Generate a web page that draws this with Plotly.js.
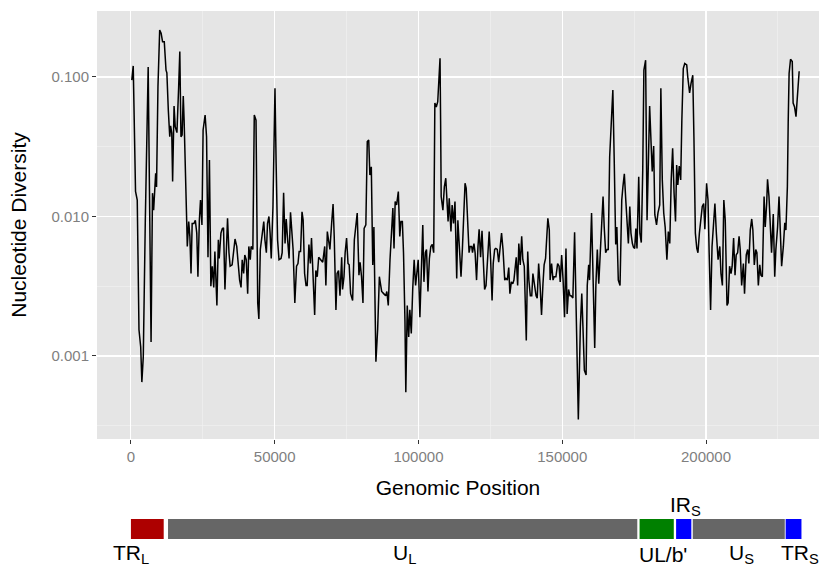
<!DOCTYPE html>
<html>
<head>
<meta charset="utf-8">
<script src="https://cdn.plot.ly/plotly-3.0.1.min.js"></script>
<style>html,body{margin:0;padding:0;background:#fff;}#chart{width:820px;height:569px;}</style>
</head>
<body>
<div id="chart"></div>
<script>
// Genomic position (bp) of each sliding window
const positions = [
300,800,1600,2200,2800,3400,3800,4300,5000,5500,6000,7000,7500,7900,8600,8900,9400,10000,10500,11000,
11600,12200,12500,13000,13500,13800,14200,14500,15000,15400,16000,16600,17000,17400,17800,18200,18500,19400,19600,20100,
20500,20900,21300,21900,22400,22900,23300,23800,24200,24700,25100,25800,26300,26800,27300,27800,28300,28800,29200,29900,
30400,30700,31300,31800,32200,32700,33100,33600,34100,34500,35200,35700,36200,36800,37300,37800,38300,38700,39200,39600,
40100,40600,41000,41500,41800,42400,42900,43500,44100,44500,45000,45500,46200,46600,47100,47500,48000,48400,48800,49400,
50100,50500,51000,51500,52200,52600,53100,53600,54000,54500,55000,55500,56000,56400,57000,57600,58100,58500,59000,59500,
59900,60400,60900,61300,61900,62400,62800,63400,63900,64300,64800,65300,66000,66700,67400,67800,68300,68800,69200,69800,
70300,70700,71300,71700,72200,72700,73300,73600,74100,74500,75000,75500,75900,76400,77100,77700,78300,78700,79300,79700,
80200,80700,81100,81700,82200,82700,83100,83600,84100,84500,85200,85800,86400,87200,87900,88600,89000,89500,90100,90700,
91100,91500,91900,92400,93000,93500,93900,94400,94800,95300,95600,96100,96600,97000,97500,98000,98500,99000,99500,99900,
100500,101100,101500,101900,102400,102800,103300,103800,104300,104800,105300,105700,106200,106700,107000,107500,107700,107900,108500,109000,
109500,109800,110300,110700,111300,111700,112200,112700,113300,113700,114200,114800,115300,115800,116200,116600,117100,117600,118000,118500,
118800,119300,119700,120200,120700,121100,121600,122100,122500,123000,123500,124100,124600,125100,125600,126000,126500,126900,127400,127900,
128300,128900,129400,130000,130400,130900,131400,131800,132300,132800,133200,133700,134000,134500,134900,135400,135900,136300,136800,137500,
138000,138400,138900,139400,139800,140300,140900,141300,141800,142300,142800,143300,143700,144200,144700,145000,145500,145800,146300,146800,
147200,147800,148400,148900,149300,149800,150300,150800,151300,151700,152200,152700,153100,153700,154300,154900,155200,155600,156300,156800,
157200,157700,158300,158700,159200,159500,160200,160700,161300,161700,162200,162700,163200,163700,164200,164600,165100,165600,166000,166500,
166900,167600,168100,168600,169000,169500,170100,170700,171100,171600,172100,172500,173000,173500,173900,174400,174800,175200,175600,176000,
176600,177000,177500,178000,178400,179000,179500,179900,180400,180900,181300,181800,182200,182800,183300,183900,184300,184800,185300,185800,
186400,186900,187400,187900,188400,188900,189400,189800,190200,190700,191200,191600,192100,192600,193300,193700,194300,194800,195400,195800,
196300,196800,197200,197700,198100,198700,199200,199600,200200,200700,201100,201600,202100,202500,203100,203600,204200,204800,205200,205700,
206200,206700,207300,207700,208200,208700,209100,209600,210100,210500,211000,211500,211900,212400,213000,213400,214000,214500,214900,215400,
215900,216300,216800,217300,217700,218200,218700,219100,219600,220200,220600,221100,221400,221900,222300,222800,223400,223900,224300,224900,
225400,225800,226300,226900,227400,227800,228300,228600,228900,229400,230000,230300,230800,231300,231900,232400
];

// Nucleotide diversity (pi) in each window
const diversity = [
0.095,0.120,0.0151,0.0131,0.00154,0.00116,0.00065,0.00099,0.0094,0.049,0.118,0.00126,0.0147,0.0111,0.0204,0.0163,0.085,0.217,0.206,0.179,
0.179,0.112,0.107,0.058,0.0373,0.0446,0.0397,0.0178,0.062,0.0441,0.0399,0.085,0.152,0.0373,0.0384,0.073,0.049,0.0092,0.0061,0.0092,
0.0072,0.0039,0.0089,0.0089,0.0094,0.0076,0.0037,0.0094,0.0131,0.0087,0.0417,0.0534,0.0373,0.0051,0.0254,0.00316,0.0044,0.0031,0.0056,0.0023,
0.0068,0.0050,0.0076,0.0082,0.0083,0.0030,0.0046,0.0097,0.0055,0.0044,0.0045,0.0055,0.0069,0.0061,0.0044,0.0035,0.0031,0.0049,0.0039,0.0053,
0.0049,0.0028,0.0061,0.0049,0.0061,0.0058,0.0534,0.049,0.0024,0.00184,0.0058,0.0068,0.0092,0.0068,0.0055,0.0089,0.0100,0.0076,0.0050,0.0118,
0.083,0.0241,0.0068,0.0049,0.0050,0.0055,0.0148,0.0064,0.0096,0.0068,0.0050,0.0107,0.0068,0.0058,0.0024,0.0044,0.0046,0.0056,0.0056,0.0108,
0.0094,0.0039,0.0032,0.0032,0.0063,0.0046,0.0070,0.0032,0.00197,0.0041,0.0037,0.0051,0.0049,0.0047,0.0061,0.0032,0.0078,0.0068,0.0058,0.0089,
0.0123,0.0072,0.00214,0.0039,0.0041,0.0027,0.0051,0.0030,0.0037,0.0055,0.0070,0.0046,0.0045,0.0028,0.0025,0.0068,0.0084,0.0106,0.0038,0.0047,
0.0037,0.0024,0.0082,0.0087,0.0344,0.0353,0.0198,0.0227,0.0045,0.0084,0.00091,0.00154,0.0037,0.0029,0.0028,0.0027,0.0029,0.0023,0.0049,0.0084,
0.0115,0.0059,0.0128,0.0121,0.0151,0.0072,0.0092,0.0092,0.0055,0.0018,0.00055,0.0023,0.00137,0.00214,0.00145,0.0030,0.0049,0.0032,0.0044,0.0049,
0.0019,0.0049,0.0087,0.0034,0.0055,0.0058,0.0029,0.0050,0.0061,0.0063,0.0055,0.065,0.061,0.0665,0.085,0.136,0.049,0.0139,0.0111,0.0163,
0.0188,0.0143,0.0092,0.0135,0.0078,0.0121,0.0089,0.0128,0.0036,0.0094,0.0058,0.0037,0.0060,0.0106,0.0173,0.0160,0.0084,0.0055,0.0061,0.0061,
0.0055,0.0064,0.0055,0.0035,0.0061,0.0081,0.0051,0.0079,0.0051,0.0030,0.0032,0.0049,0.0078,0.0049,0.0025,0.0046,0.0058,0.0059,0.0058,0.0047,
0.0061,0.0076,0.0058,0.0035,0.0036,0.0035,0.0043,0.0028,0.0034,0.0033,0.0035,0.0044,0.0051,0.0032,0.0064,0.0045,0.0072,0.0049,0.0044,0.00129,
0.0056,0.0035,0.0027,0.0027,0.0039,0.0033,0.0027,0.0026,0.0046,0.0032,0.00197,0.0033,0.0045,0.0050,0.0076,0.0097,0.0080,0.0035,0.0046,0.0035,
0.0037,0.0037,0.0046,0.0044,0.0034,0.0053,0.0035,0.0019,0.0059,0.0020,0.0030,0.0027,0.0027,0.0026,0.0077,0.00154,0.00079,0.00035,0.00163,0.0028,
0.00163,0.00079,0.00073,0.0032,0.0045,0.0035,0.0106,0.0028,0.00114,0.0032,0.0058,0.0033,0.0051,0.0076,0.0139,0.0084,0.0055,0.0058,0.0058,0.0268,
0.0373,0.0807,0.0241,0.0063,0.0084,0.0035,0.0032,0.0131,0.0163,0.0202,0.0131,0.0094,0.0064,0.0118,0.0076,0.0064,0.0060,0.0059,0.0082,0.0059,
0.0193,0.0076,0.0065,0.0215,0.112,0.132,0.0094,0.0215,0.062,0.0335,0.0210,0.0320,0.0103,0.0087,0.0106,0.0121,0.083,0.0183,0.0106,0.0084,
0.0049,0.0078,0.0064,0.0183,0.0308,0.0147,0.0092,0.0234,0.0168,0.0230,0.0183,0.049,0.115,0.125,0.122,0.098,0.077,0.090,0.103,0.0373,
0.0076,0.0059,0.0055,0.0076,0.0094,0.0118,0.0124,0.0081,0.0173,0.0131,0.0055,0.00214,0.0061,0.0084,0.0124,0.0076,0.0049,0.0061,0.0039,0.0032,
0.0131,0.0094,0.0023,0.0024,0.0044,0.0039,0.0044,0.0070,0.0038,0.0053,0.0055,0.0072,0.0058,0.0032,0.0046,0.0028,0.0053,0.0058,0.0046,0.0080,
0.0096,0.0080,0.0045,0.0058,0.0055,0.0032,0.0045,0.0038,0.0037,0.0139,0.0084,0.0124,0.0185,0.0139,0.0094,0.0055,0.0104,0.0037,0.0058,0.0084,
0.0139,0.0076,0.0044,0.0061,0.0090,0.0080,0.0163,0.049,0.106,0.134,0.129,0.065,0.061,0.052,0.083,0.110
];

// Axis ticks
const xTickVals = [0, 50000, 100000, 150000, 200000];
const xTickText = ['0', '50000', '100000', '150000', '200000'];
const xMinorVals = [25000, 75000, 125000, 175000, 225000];
const yTickVals = [0.001, 0.01, 0.1];
const yTickText = ['0.001', '0.010', '0.100'];
const yMinorVals = [0.000316, 0.00316, 0.0316];

// Genome regions (annotation bar)
const regionLabels = ['TR<sub>L</sub>', 'U<sub>L</sub>', "UL/b'", 'IR<sub>S</sub>', 'U<sub>S</sub>', 'TR<sub>S</sub>'];
const regionStart = [0, 12900, 176900, 189600, 195400, 227700];
const regionEnd = [11400, 176100, 188800, 194900, 227400, 233200];
const regionLabelPos = [0, 95300, 185000, 193000, 212500, 232700];
const regionColors = ['#AD0000', '#666666', '#008000', '#0000FF', '#666666', '#0000FF'];
const regionLabelAbove = [false, false, false, true, false, false];

// paper-y for a pixel row (plot area spans rows 11..439)
const pTop = 11, pBot = 439;
const py = (row) => (pBot - row) / (pBot - pTop);

const shapes = regionStart.map((s, i) => ({
  type: 'rect', xref: 'x', yref: 'paper',
  x0: s, x1: regionEnd[i], y0: py(539), y1: py(519),
  fillcolor: regionColors[i], line: {width: 0}, layer: 'above'
}));

const annotations = regionLabels.map((t, i) => ({
  xref: 'x', yref: 'paper',
  x: regionLabelPos[i],
  y: regionLabelAbove[i] ? py(506) : py(554),
  text: t, showarrow: false,
  xanchor: 'center', yanchor: 'middle',
  font: {size: 21, color: '#000000', family: 'Liberation Sans, Arial, sans-serif'}
}));

const trace = {
  x: positions, y: diversity,
  type: 'scatter', mode: 'lines',
  line: {color: '#000000', width: 1.5},
  hoverinfo: 'x+y'
};

const layout = {
  width: 820, height: 569,
  margin: {l: 97, r: 1, t: pTop, b: 569 - pBot, pad: 0},
  paper_bgcolor: '#FFFFFF', plot_bgcolor: '#E5E5E5',
  font: {family: 'Liberation Sans, Arial, sans-serif', color: '#000000'},
  showlegend: false,
  xaxis: {
    range: [-11800, 239300], autorange: false,
    tickmode: 'array', tickvals: xTickVals, ticktext: xTickText,
    ticks: 'outside', ticklen: 4, tickwidth: 1, tickcolor: '#333333',
    tickfont: {size: 15, color: '#7F7F7F'},
    showgrid: true, gridcolor: '#FFFFFF', gridwidth: 1.1,
    minor: {tickmode: 'array', tickvals: xMinorVals, showgrid: true, gridcolor: '#F2F2F2', gridwidth: 0.6, ticks: ''},
    zeroline: false, showline: false, automargin: false,
    title: {text: 'Genomic Position', font: {size: 21, color: '#000000'}, standoff: 16}
  },
  yaxis: {
    type: 'log', range: [-3.595, -0.527], autorange: false,
    tickmode: 'array', tickvals: yTickVals, ticktext: yTickText,
    ticks: 'outside', ticklen: 4, tickwidth: 1, tickcolor: '#333333',
    tickfont: {size: 15, color: '#7F7F7F'},
    showgrid: true, gridcolor: '#FFFFFF', gridwidth: 1.1,
    minor: {tickmode: 'array', tickvals: yMinorVals, showgrid: true, gridcolor: '#F2F2F2', gridwidth: 0.6, ticks: ''},
    zeroline: false, showline: false, automargin: false,
    title: {text: 'Nucleotide Diversity', font: {size: 21, color: '#000000'}, standoff: 19}
  },
  shapes: shapes,
  annotations: annotations
};

Plotly.newPlot('chart', [trace], layout, {displayModeBar: false, staticPlot: true});
</script>
</body>
</html>
